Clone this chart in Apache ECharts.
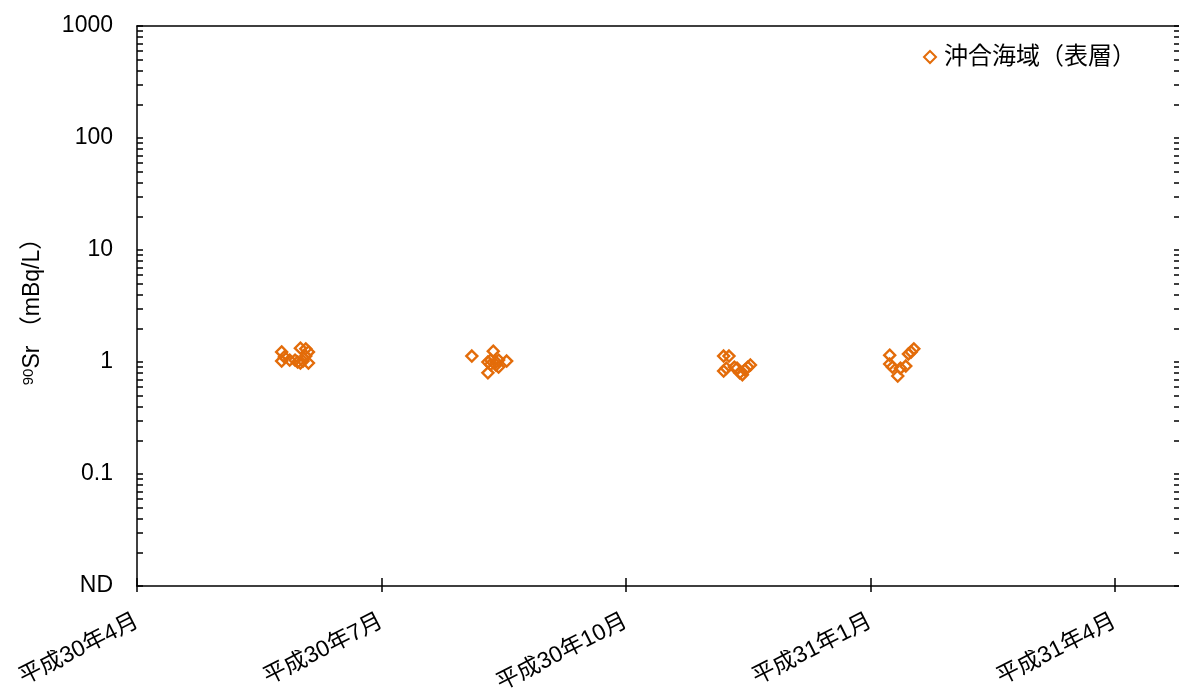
<!DOCTYPE html>
<html>
<head>
<meta charset="utf-8">
<script src="https://cdn.jsdelivr.net/npm/echarts@6/dist/echarts.min.js"></script>
<style>
html,body{margin:0;padding:0;background:#fff;}
#chart{width:1179px;height:691px;}
</style>
</head>
<body>
<div id="chart"></div>
<script>
// ---- data ----
const seriesName = '沖合海域（表層）';
const sampleDates = [
  '2018-05-25','2018-05-25','2018-05-26','2018-05-28','2018-05-30','2018-05-31','2018-06-01','2018-06-01','2018-06-02','2018-06-03','2018-06-03','2018-06-04','2018-06-04',
  '2018-08-04','2018-08-10','2018-08-10','2018-08-11','2018-08-11','2018-08-12','2018-08-13','2018-08-13','2018-08-14','2018-08-14','2018-08-17',
  '2018-11-06','2018-11-06','2018-11-07','2018-11-08','2018-11-10','2018-11-11','2018-11-12','2018-11-13','2018-11-14','2018-11-15','2018-11-16',
  '2019-01-07','2019-01-07','2019-01-08','2019-01-10','2019-01-11','2019-01-13','2019-01-14','2019-01-15','2019-01-16'
];
const sr90Values = [
  1.23,1.02,1.11,1.04,1.04,1.00,1.33,0.98,1.02,1.31,1.13,1.23,0.98,
  1.13,0.80,1.00,1.04,0.95,1.25,1.00,0.94,0.90,1.04,1.02,
  1.13,0.83,0.88,1.13,0.90,0.88,0.80,0.77,0.85,0.90,0.94,
  1.15,0.96,0.90,0.75,0.88,0.92,1.18,1.23,1.31
];
const axisStartDate = '2018-04-01';
const xTickDays = [0, 91.25, 182.5, 273.75, 365];
const xTickLabels = ['平成30年4月','平成30年7月','平成30年10月','平成31年1月','平成31年4月'];
const xMaxDays = 389;
const yMin = 0.01, yMax = 1000;
const yTickLabels = ['ND','0.1','1','10','100','1000'];
const yMinorMultipliers = [2,3,4,5,6,7,8,9];

// ---- helpers ----
function dayOffset(s){
  const p = s.split('-').map(Number), q = axisStartDate.split('-').map(Number);
  return (Date.UTC(p[0],p[1]-1,p[2]) - Date.UTC(q[0],q[1]-1,q[2]))/86400000;
}
const points = sampleDates.map((d,i)=>[dayOffset(d), sr90Values[i]]);
const logMin = Math.round(Math.log10(yMin)), logMax = Math.round(Math.log10(yMax));
const majorLogs = [], minorLogs = [];
for(let e=logMin;e<=logMax;e++){
  majorLogs.push(e);
  if(e<logMax) yMinorMultipliers.forEach(m=>minorLogs.push(e+Math.log10(m)));
}
const allLogs = majorLogs.concat(minorLogs);

const FONT = "'Liberation Sans','Noto Sans CJK JP',sans-serif";
const C = '#E36C0A';
const LS = {color:'#000',width:1.5};

const chart = echarts.init(document.getElementById('chart'), null, {renderer:'canvas'});
chart.setOption({
  animation:false,
  backgroundColor:'#fff',
  grid:{left:137,right:0,top:26,bottom:105,outerBoundsMode:'none',containLabel:false},
  legend:{
    data:[seriesName], left:918, top:40,
    itemWidth:12, itemHeight:12, itemGap:0,
    textStyle:{fontFamily:FONT,fontSize:24,color:'#000',padding:[0,0,0,3]}
  },
  xAxis:[
    {type:'value',position:'bottom',min:0,max:xMaxDays,
     axisLine:{show:true,onZero:false,lineStyle:LS},
     axisTick:{show:true,inside:false,length:6,customValues:xTickDays,lineStyle:LS},
     axisLabel:{show:true,customValues:xTickDays,rotate:27,margin:34,fontFamily:FONT,fontSize:23,color:'#000',
       formatter:function(v){let best=0;xTickDays.forEach((t,i)=>{if(Math.abs(t-v)<Math.abs(xTickDays[best]-v))best=i;});return xTickLabels[best];}},
     splitLine:{show:false}},
    {type:'value',position:'bottom',min:0,max:xMaxDays,
     axisLine:{show:false,onZero:false},
     axisTick:{show:true,inside:true,length:8,customValues:xTickDays,lineStyle:LS},
     axisLabel:{show:false},splitLine:{show:false}},
    {type:'value',position:'top',min:0,max:xMaxDays,
     axisLine:{show:true,onZero:false,lineStyle:LS},
     axisTick:{show:false},axisLabel:{show:false},splitLine:{show:false}}
  ],
  yAxis:[
    {type:'log',logBase:10,min:yMin,max:yMax,position:'left',
     name:'{sup|90}Sr （mBq/L）',nameLocation:'middle',nameRotate:90,nameGap:93,
     nameTextStyle:{fontFamily:FONT,fontSize:23,color:'#000',rich:{sup:{fontSize:15,fontFamily:FONT,color:'#000',verticalAlign:'top',padding:[0,0,8,0]}}},
     axisLine:{show:true,onZero:false,lineStyle:LS},
     axisTick:{show:true,inside:true,length:6,lineStyle:LS},
     axisLabel:{margin:24,fontFamily:FONT,fontSize:23,color:'#000',
       formatter:function(v){const i=Math.round(Math.log10(v))-logMin;return yTickLabels[i]||'';}},
     splitLine:{show:false},minorTick:{show:false}},
    {type:'value',min:logMin,max:logMax,position:'left',
     axisLine:{show:false,onZero:false},
     axisTick:{show:true,inside:true,length:6,customValues:minorLogs,lineStyle:LS},
     axisLabel:{show:false},splitLine:{show:false}},
    {type:'value',min:logMin,max:logMax,position:'right',
     axisLine:{show:false,onZero:false},
     axisTick:{show:true,inside:true,length:5,customValues:allLogs,lineStyle:LS},
     axisLabel:{show:false},splitLine:{show:false}}
  ],
  series:[{
    name:seriesName,type:'scatter',xAxisIndex:0,yAxisIndex:0,
    symbol:'diamond',symbolSize:11,
    itemStyle:{color:'rgba(255,255,255,0)',borderColor:C,borderWidth:2.4,opacity:1},
    data:points
  }]
});
</script>
</body>
</html>
